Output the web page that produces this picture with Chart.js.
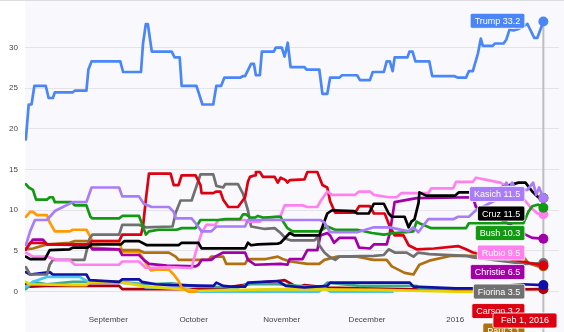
<!DOCTYPE html>
<html>
<head>
<meta charset="utf-8">
<script src="https://cdn.jsdelivr.net/npm/chart.js@4.4.1/dist/chart.umd.min.js"></script>
<style>
  html, body { margin: 0; padding: 0; background: #fff; }
  #wrap { width: 564px; height: 332px; position: relative; }
</style>
</head>
<body>
<div id="wrap"><canvas id="myChart"></canvas></div>
<script>
// x values are days counted from Sep 1, 2015
const tickDays = [0, 30, 61, 91, 122];
const tickLabels = ["September", "October", "November", "December", "2016"];
const yTicks = [0, 5, 10, 15, 20, 25, 30];

const trump = [[-29,18.7],[-28,23.0],[-27,23.0],[-26,25.3],[-22,25.3],[-21,23.8],[-19.5,23.8],[-18.8,24.5],[-12.5,24.5],[-11.8,24.7],[-7.7,24.7],[-7,27.3],[-5.9,28.3],[4.2,28.3],[5.2,27.0],[11.5,27.0],[12.2,30.5],[13.2,32.9],[13.9,32.9],[15.3,29.5],[22.3,29.5],[23.3,28.8],[25.1,28.8],[25.8,25.3],[31,25.3],[33.1,23.0],[36.9,23.0],[38,25.3],[39.7,25.3],[40.8,26.3],[46.3,26.3],[47.4,26.5],[48.1,26.5],[50.2,28.0],[51.2,28.0],[51.9,26.6],[53.3,26.6],[54,29.5],[58.2,29.5],[58.9,30.0],[61,30.0],[62,28.9],[63.1,30.6],[64.1,27.6],[69,27.6],[69.7,27.3],[74.2,27.3],[75.3,24.3],[77,24.3],[78,26.3],[81.2,26.3],[82.2,26.6],[87.5,26.6],[88.5,26.0],[92,26.0],[93,27.0],[96.9,27.0],[97.9,28.3],[99,28.3],[100,27.1],[100.7,28.8],[105.2,28.8],[105.9,29.5],[107,29.5],[108,28.3],[112.9,28.3],[113.9,26.5],[121.6,26.5],[123,26.3],[125.8,26.3],[126.8,27.1],[128.2,27.1],[130,29.3],[131,31.1],[131.7,30.2],[135.2,30.2],[135.9,30.5],[139,30.5],[140,31.0],[141.1,32.2],[142.5,32.1],[144.3,32.3],[147.4,32.9],[149.8,31.2],[150.9,31.2],[153,33.2]];
const kasich = [[-29,5.7],[-27.5,7.4],[-25.8,8.8],[-21.6,8.8],[-18.8,9.9],[-12.5,11.0],[-7.7,11.0],[-5.9,12.8],[3.8,12.8],[4.9,11.7],[10.8,11.7],[12.5,10.8],[15.3,10.4],[21.3,10.4],[23,9.8],[23.7,9.0],[29.3,9.0],[30.7,8.4],[32.8,7.4],[36.2,7.4],[38,8.0],[48.1,8.0],[49.1,8.8],[74.6,8.8],[76,8.5],[78,7.3],[87.5,7.3],[93.4,7.9],[99,7.9],[105.6,7.4],[107.3,7.9],[109,7.3],[112.5,8.9],[121.3,8.9],[123,9.2],[126.8,9.2],[129.3,10.0],[136,11.2],[139,12.8],[140,13.4],[141,12.6],[142,13.4],[143.5,12.5],[147.4,12.5],[149.4,13.4],[150.5,11.9],[151.5,12.8],[153,11.5]];
const cruz = [[-29,4.3],[-27.5,4.0],[-22.3,4.0],[-20.6,5.1],[-13.6,5.2],[-12.5,5.4],[-7.3,5.4],[-5.9,5.8],[4.5,5.8],[5.6,6.2],[10.8,6.2],[13.6,5.7],[24.7,5.7],[25.8,6.0],[31.7,6.0],[32.8,5.3],[48.1,5.3],[49.1,6.0],[50.2,5.7],[52.6,5.8],[59.6,5.9],[60.6,6.0],[63.8,7.2],[65.5,6.9],[74.2,6.9],[77,9.6],[78.7,10.0],[86.4,9.9],[87.5,9.6],[91.6,9.6],[93.4,10.8],[96.9,10.8],[98.6,9.6],[99.7,9.2],[104.2,9.2],[105.6,7.9],[106.6,8.6],[107.7,8.9],[109.1,10.9],[109.4,12.2],[111.8,11.8],[122,11.8],[123.3,12.2],[127.5,12.2],[136,12.6],[144.3,13.4],[146.7,13.4],[149.1,12.3],[151.2,11.6],[153,11.5]];
const bush = [[-29,13.2],[-28,12.8],[-26.5,12.5],[-25.4,11.3],[-21.6,11.3],[-20.6,11.6],[-19.5,11.6],[-18.8,11.0],[-12.9,11.0],[-11.8,10.6],[-7.7,10.6],[-6.3,9.2],[-5.6,9.0],[3.8,9.0],[4.9,9.3],[10.8,9.3],[12.2,8.0],[13.2,7.0],[14.3,7.4],[17.8,7.6],[24,7.6],[25.8,7.8],[30.7,7.8],[32.4,8.8],[38.7,8.8],[41.1,8.9],[46.3,8.9],[47.4,9.5],[48.4,9.5],[49.8,9.1],[51.6,9.1],[52.6,9.3],[54.4,9.1],[60.6,9.2],[61.3,8.7],[63,7.8],[64.8,7.4],[74.2,7.4],[77,8.0],[79.8,7.6],[87.5,7.6],[92.7,7.2],[96.9,7.0],[100.7,7.2],[104.9,7.3],[107.3,7.4],[108.4,8.6],[109.4,8.4],[113.6,7.8],[125.8,7.8],[126.8,8.4],[146,8.4],[147.7,9.8],[149.1,10.5],[151.2,10.7],[153,10.3]];
const rubio = [[-29,4.8],[-26.5,4.3],[-21.6,4.3],[-18.1,3.9],[-13.6,3.9],[-11.8,3.3],[3.8,3.3],[4.9,3.7],[10.8,3.7],[13.2,2.9],[21.3,3.0],[29.3,2.9],[30.7,4.8],[31.7,6.0],[32.8,7.2],[34.5,8.2],[37.6,8.2],[38.7,8.8],[48.1,8.8],[49.1,8.6],[53.3,8.6],[54.4,9.0],[60.6,9.3],[62,10.6],[68.3,10.6],[70,10.4],[73.5,10.4],[74.6,11.1],[77,12.3],[78.7,11.9],[86.8,11.9],[88.2,12.3],[92,12.3],[93.4,11.9],[98.6,11.6],[101.4,11.6],[103,12.1],[112.5,12.1],[113.6,12.7],[121.3,12.7],[122.3,13.5],[128.2,13.5],[129.3,14.0],[137.9,13.4],[144.9,11.9],[148.4,10.4],[150.9,9.6],[153,9.5]];
const christie = [[-29,5.2],[-26.5,6.4],[-23,6.4],[-21.6,5.8],[-6.6,5.7],[-5.6,5.2],[3.8,5.2],[4.9,4.5],[10.8,4.5],[12.5,3.9],[14.3,3.4],[20.6,3.2],[30.7,3.1],[31.7,3.3],[32.8,3.9],[36.2,3.9],[37.6,4.3],[40.4,4.8],[48.1,4.8],[49.1,3.9],[51.6,3.3],[60.6,3.4],[63,3.3],[63.8,4.0],[68.3,4.0],[70,5.1],[73.5,5.1],[74.6,6.9],[77,7.2],[78,6.9],[79.4,6.0],[81.2,6.6],[86.8,6.6],[88.2,5.4],[92,5.3],[93.4,5.8],[97.9,5.8],[99,7.2],[100.7,11.0],[108.4,11.5],[128.2,11.6],[129.3,10.4],[140,8.5],[146.7,7.0],[149.1,6.6],[153,6.5]];
const fiorina = [[-29,3.0],[-27.5,2.1],[-21.6,2.1],[-20.6,3.3],[-19.5,3.9],[-8.4,3.9],[-6.6,6.5],[-5.6,7.0],[3.8,7.0],[4.9,8.2],[10.8,8.2],[13.2,7.9],[22.6,8.0],[23.7,9.7],[25.4,11.2],[29.3,11.2],[32.4,14.4],[36.9,14.4],[38,13.0],[40.4,12.8],[41.1,13.2],[45.6,13.2],[47.4,12.0],[49.1,10.0],[50.2,8.0],[55,7.7],[58.5,7.8],[60.6,7.2],[62.4,6.5],[64.1,6.3],[72.5,6.3],[73.5,6.7],[74.2,5.7],[76,4.8],[77.7,4.3],[79.8,3.9],[81.2,4.3],[93.4,4.4],[96.9,4.5],[98.6,5.2],[100.7,4.8],[104.9,4.8],[107.3,4.3],[109,4.8],[112.9,4.6],[125.8,4.4],[128.2,4.2],[146.7,3.4],[153,3.5]];
const carson = [[-29,5.2],[-27.5,6.0],[-22.3,6.0],[-21.3,5.8],[-6.6,5.8],[-5.9,6.2],[3.8,6.2],[4.9,7.0],[11.5,7.0],[12.2,8.0],[13.2,11.3],[14.3,14.5],[21.9,14.5],[23,13.1],[24.7,13.1],[25.8,14.3],[30.7,14.3],[32.4,13.1],[32.8,12.1],[36.9,12.1],[38,12.3],[39.4,12.3],[40.4,11.3],[42.2,10.4],[45.6,10.4],[48.1,11.6],[49.1,13.5],[49.8,14.1],[51.6,14.3],[51.9,14.7],[53.3,14.7],[54.4,14.1],[58.5,14.1],[59.6,13.4],[60.6,14.0],[62.4,13.7],[63,13.4],[63.8,13.7],[69,13.8],[70,14.7],[73.5,14.7],[75.3,13.1],[77,12.8],[78,11.1],[79.8,9.7],[86.8,9.7],[88.2,10.5],[92,10.5],[93.4,9.6],[97.2,9.6],[99,8.0],[100.7,6.9],[103.8,6.9],[105.6,5.7],[108.4,5.2],[114.6,5.3],[123,5.6],[125.8,5.2],[128.2,4.8],[145.6,3.7],[153,3.2]];
const paul = [[-29,5.2],[-26.5,5.3],[-21.6,5.8],[-13.6,6.0],[-11.8,6.2],[-7.3,6.2],[-5.9,5.4],[3.8,5.2],[4.9,5.1],[10.8,5.1],[12.5,4.8],[21.3,4.8],[23.7,4.3],[24.7,3.9],[35.2,3.9],[36.2,4.3],[40.4,4.3],[41.5,3.4],[48.1,3.4],[49.1,4.0],[55.4,4.0],[59.6,4.3],[61.3,4.0],[64.1,3.7],[70,3.4],[74.2,3.4],[76,3.9],[80.5,4.3],[87.5,4.3],[91.6,4.0],[93.4,3.9],[97.9,3.9],[99.7,3.1],[104.2,2.3],[107.3,2.1],[109.4,3.3],[112.9,3.8],[120.6,4.4],[128.2,4.4],[146,4.3],[147.7,3.5],[151.2,3.1],[153,3.1]];
const walker = [[-29,9.2],[-27.5,9.8],[-26.5,9.8],[-25.1,9.4],[-21.6,9.4],[-20.6,8.5],[-18.8,7.4],[-13.6,7.4],[-12.5,7.6],[-7.7,7.6],[-6.6,6.9],[-5.6,6.2],[3.8,6.2],[4.9,4.9],[10.8,4.9],[11.8,4.3],[13.2,3.5],[15,2.6],[16.7,2.7],[21.3,2.7],[23,2.1],[24.7,1.3],[25.8,0.5],[28.2,0.0],[31,0.0]];
const huckabee = [[-29,2.4],[-27.5,2.1],[-20.6,2.4],[-19.5,2.1],[-7.7,2.1],[-6.6,1.4],[3.8,1.2],[4.9,1.5],[10.8,1.5],[11.8,1.2],[16.7,0.9],[22.3,0.8],[37,0.7],[38,1.1],[40.4,0.7],[42.9,0.6],[48.1,0.6],[49.1,1.1],[59.6,1.3],[62.4,0.7],[69,0.5],[77,0.7],[78,1.1],[106,1.1],[107.3,0.6],[122.3,0.4],[128.2,0.4],[145.6,0.9],[153,0.8]];
const jindal = [[-29,0.6],[-26.5,1.2],[-21.6,1.8],[-10.1,1.8],[-6.6,1.1],[3.8,1.1],[10.8,0.9],[13.2,0.5],[25.8,0.4],[31.7,0.0],[74,0.0],[76,0.5],[78,0.0],[100,0.0]];
const pataki = [[-29,0.3],[-26.5,1.2],[-21.6,0.9],[-12.5,1.2],[3.8,1.2],[13.2,0.9],[22.3,1.0],[31.7,0.6],[45.6,0.5],[49.1,0.9],[59.6,0.9],[75.3,0.5],[77,1.1],[82.2,0.9],[88.5,0.7],[108.4,0.7],[109.4,0.4],[129.3,0.4]];
const graham = [[-29,1.2],[-27.5,0.9],[-12.5,0.8],[-7.7,0.8],[-6.6,1.2],[3.8,1.2],[13.2,0.6],[22.3,0.4],[31.7,0.1],[59.6,0.3],[94.4,0.2],[122.3,0.0],[129.3,0.0]];
const gilmore = [[-29,0.9],[-27.5,0.6],[-21.6,0.7],[3.8,0.7],[4.9,0.3],[37.6,0.3],[49.1,0.9],[52.6,1.1],[59.6,1.3],[62,1.4],[66.6,0.5],[69,0.8],[77,0.5],[115.3,0.2],[128.2,0.2],[153,0.3]];

// Chart.js paints the first dataset on top
const names = ["Trump", "Kasich", "Cruz", "Bush", "Rubio", "Carson", "Fiorina", "Christie", "Paul", "Walker", "Huckabee", "Graham", "Jindal", "Pataki", "Gilmore"];
const series = [trump, kasich, cruz, bush, rubio, carson, fiorina, christie, paul, walker, huckabee, graham, jindal, pataki, gilmore];
const colors = ["#4a86f7", "#a97cf8", "#000000", "#119911", "#ff80ee", "#dc0010", "#707070", "#a100a6", "#b07010", "#ff9a00", "#1010a8", "#e6d400", "#4cc6f0", "#3fa88a", "#a8000c"];

const lastDay = 153;
const FONT = "'Liberation Sans', Arial, sans-serif";

const background = {
  id: "background",
  beforeDraw(chart) {
    const { ctx, chartArea, width, height } = chart;
    ctx.save();
    ctx.fillStyle = "#ffffff";
    ctx.fillRect(0, 0, width, height);
    ctx.fillStyle = "#f9f9fd";
    ctx.fillRect(chartArea.left, 0, width - chartArea.left, height);
    ctx.fillStyle = "#dddddd";
    ctx.fillRect(0, 0, width, 1);
    ctx.restore();
  }
};

function roundRect(ctx, x, y, w, h, r) {
  ctx.beginPath();
  ctx.moveTo(x + r, y);
  ctx.arcTo(x + w, y, x + w, y + h, r);
  ctx.arcTo(x + w, y + h, x, y + h, r);
  ctx.arcTo(x, y + h, x, y, r);
  ctx.arcTo(x, y, x + w, y, r);
  ctx.closePath();
}

const hoverLabels = {
  id: "hoverLabels",
  beforeDatasetsDraw(chart) {
    const { ctx, scales } = chart;
    const ends = chart.data.datasets
      .map(ds => ds.data[ds.data.length - 1])
      .filter(p => p[0] === lastDay);
    const x = scales.x.getPixelForValue(lastDay);
    const top = scales.y.getPixelForValue(Math.max(...ends.map(p => p[1])));
    ctx.save();
    ctx.strokeStyle = "#bdbdbd";
    ctx.lineWidth = 2;
    ctx.beginPath();
    ctx.moveTo(x, top);
    ctx.lineTo(x, chart.height);
    ctx.stroke();
    ctx.restore();
  },
  afterDatasetsDraw(chart) {
    const { ctx, chartArea, scales } = chart;
    const items = [];
    chart.data.datasets.forEach((ds, i) => {
      const p = ds.data[ds.data.length - 1];
      if (p[0] !== lastDay) return;
      items.push({
        i,
        text: ds.label + " " + p[1].toFixed(1),
        color: ds.borderColor,
        x: scales.x.getPixelForValue(p[0]),
        y: scales.y.getPixelForValue(p[1])
      });
    });
    items.sort((a, b) => (a.y - b.y) || (a.i - b.i));

    const h = 15, step = 19.5;
    let prev = -Infinity;
    items.forEach(it => {
      it.cy = Math.max(it.y - 4, prev + step, chartArea.top + h / 2 + 1.5);
      prev = it.cy;
    });

    ctx.save();
    ctx.font = "9px " + FONT;
    ctx.textBaseline = "middle";
    ctx.textAlign = "left";
    items.forEach(it => {
      const w = ctx.measureText(it.text).width + 9;
      const right = it.x - 18.5;
      roundRect(ctx, right - w, it.cy - h / 2, w, h, 2);
      ctx.fillStyle = it.color;
      ctx.fill();
      ctx.strokeStyle = "rgba(255,255,255,0.8)";
      ctx.lineWidth = 1;
      ctx.stroke();
      ctx.fillStyle = "#ffffff";
      ctx.fillText(it.text, right - w + 4.5, it.cy + 0.5);
    });

    // date label on the x axis
    const months = ["Jan", "Feb", "Mar", "Apr", "May", "Jun", "Jul", "Aug", "Sep", "Oct", "Nov", "Dec"];
    const d = new Date(2015, 8, 1 + lastDay);
    const txt = months[d.getMonth()] + " " + d.getDate() + ", " + d.getFullYear();
    const w = ctx.measureText(txt).width + 16;
    const cx = scales.x.getPixelForValue(lastDay);
    let left = cx - w / 2;
    if (left + w > chart.width - 7) left = chart.width - 7 - w;
    const top = chartArea.bottom + 8;
    roundRect(ctx, left, top, w, h, 2);
    ctx.fillStyle = colors[names.indexOf("Carson")];
    ctx.fill();
    ctx.strokeStyle = "rgba(255,255,255,0.8)";
    ctx.stroke();
    ctx.fillStyle = "#ffffff";
    ctx.fillText(txt, left + 8, top + h / 2 + 0.5);
    ctx.restore();
  }
};

new Chart(document.getElementById("myChart"), {
  type: "line",
  data: {
    datasets: series.map((s, i) => ({
      label: names[i],
      data: s,
      borderColor: colors[i],
      backgroundColor: colors[i],
      borderWidth: 2.7,
      tension: 0,
      fill: false,
      borderJoinStyle: "round",
      borderCapStyle: "round",
      pointRadius: ctx => (ctx.dataIndex === s.length - 1 && s[s.length - 1][0] === lastDay ? 5 : 0),
      pointBorderWidth: 0,
      pointBackgroundColor: colors[i]
    }))
  },
  options: {
    responsive: true,
    maintainAspectRatio: false,
    animation: false,
    layout: { padding: 0 },
    plugins: {
      legend: { display: false },
      tooltip: { enabled: false }
    },
    scales: {
      x: {
        type: "linear",
        min: -29.3,
        max: 158.5,
        afterBuildTicks: s => { s.ticks = tickDays.map(v => ({ value: v })); },
        afterFit: s => { s.height = 27; },
        grid: { display: false, drawTicks: false },
        border: { display: false },
        ticks: {
          autoSkip: false,
          maxRotation: 0,
          padding: 10,
          color: "#444",
          font: { family: FONT, size: 8 },
          callback: (v, i) => tickLabels[i]
        }
      },
      y: {
        min: -1.65,
        max: 34.4,
        afterBuildTicks: s => { s.ticks = yTicks.map(v => ({ value: v })); },
        afterFit: s => { s.width = 25; },
        grid: { color: "#e3e3e8", lineWidth: 1, drawTicks: false },
        border: { display: false },
        ticks: {
          padding: 7,
          color: "#444",
          font: { family: FONT, size: 8 }
        }
      }
    }
  },
  plugins: [background, hoverLabels]
});
</script>
</body>
</html>
